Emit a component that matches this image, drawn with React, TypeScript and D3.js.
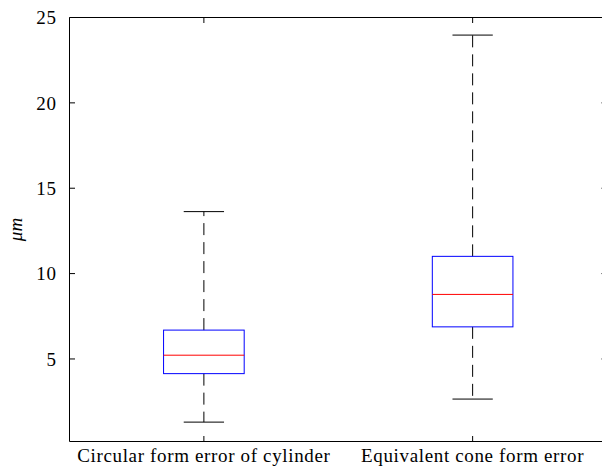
import React from "react";
import * as d3 from "d3";

const categories = ["Circular form error of cylinder", "Equivalent cone form error"];
const whiskerLow = [1.3, 2.65];
const q1 = [4.14, 6.88];
const median = [5.22, 8.78];
const q3 = [6.69, 11.01];
const whiskerHigh = [13.63, 23.97];
const yTicks = [5, 10, 15, 20, 25];

const W = 602;
const H = 467;
const left = 69.5;
const right = 607;
const top = 17.5;
const bottom = 441.5;

export default function App() {
  const x = d3.scaleLinear().domain([0.5, 2.5]).range([left, right]);
  const y = d3.scaleLinear().domain([0.165, 25]).range([bottom, top]);
  const boxW = 0.3;
  const capW = 0.15;
  const tickLen = 5.5;
  const font = "'Liberation Serif', 'DejaVu Serif', serif";
  return (
    <svg
      width={W}
      height={H}
      style={{ position: "absolute", left: 0, top: 0, background: "#fff" }}
    >
      {/* axes box */}
      <g stroke="#000" strokeWidth={1} fill="none">
        <line x1={left} x2={right} y1={top} y2={top} />
        <line x1={left} x2={right} y1={bottom} y2={bottom} />
        <line x1={left} x2={left} y1={top} y2={bottom} />
        <line x1={right} x2={right} y1={top} y2={bottom} />
        {yTicks.map((t) => (
          <g key={t}>
            <line x1={left} x2={left + tickLen} y1={y(t)} y2={y(t)} />
            <line x1={right} x2={right - tickLen} y1={y(t)} y2={y(t)} />
          </g>
        ))}
        {categories.map((c, i) => (
          <g key={c}>
            <line x1={x(i + 1)} x2={x(i + 1)} y1={bottom} y2={bottom - tickLen} />
            <line x1={x(i + 1)} x2={x(i + 1)} y1={top} y2={top + tickLen} />
          </g>
        ))}
      </g>
      {/* y tick labels */}
      {yTicks.map((t) => (
        <text
          key={t}
          x={left - 13}
          y={y(t)}
          dy="0.35em"
          textAnchor="end"
          fontFamily={font}
          fontSize={19}
          letterSpacing={0.6}
          fill="#000"
        >
          {t}
        </text>
      ))}
      {/* x labels */}
      {categories.map((c, i) => (
        <text
          key={c}
          x={x(i + 1)}
          y={462}
          textAnchor="middle"
          fontFamily={font}
          fontSize={19}
          letterSpacing={0.65}
          fill="#000"
        >
          {c}
        </text>
      ))}
      {/* y label */}
      <text
        transform={`translate(22,${(top + bottom) / 2}) rotate(-90)`}
        textAnchor="middle"
        fontFamily={font}
        fontStyle="italic"
        fontSize={19}
        fill="#000"
      >
        μm
      </text>
      {/* boxes */}
      {categories.map((c, i) => {
        const cx = x(i + 1);
        const bx0 = x(i + 1 - boxW / 2);
        const bx1 = x(i + 1 + boxW / 2);
        const cx0 = x(i + 1 - capW / 2);
        const cx1 = x(i + 1 + capW / 2);
        return (
          <g key={c} fill="none" strokeWidth={1}>
            <line
              x1={cx}
              x2={cx}
              y1={y(q3[i])}
              y2={y(whiskerHigh[i])}
              stroke="#000"
              strokeDasharray="12,7"
            />
            <line
              x1={cx}
              x2={cx}
              y1={y(q1[i])}
              y2={y(whiskerLow[i])}
              stroke="#000"
              strokeDasharray="12,7"
            />
            <line x1={cx0} x2={cx1} y1={y(whiskerHigh[i])} y2={y(whiskerHigh[i])} stroke="#000" />
            <line x1={cx0} x2={cx1} y1={y(whiskerLow[i])} y2={y(whiskerLow[i])} stroke="#000" />
            <rect
              x={bx0}
              y={y(q3[i])}
              width={bx1 - bx0}
              height={y(q1[i]) - y(q3[i])}
              stroke="#0000ff"
            />
            <line x1={bx0} x2={bx1} y1={y(median[i])} y2={y(median[i])} stroke="#ff0000" />
          </g>
        );
      })}
    </svg>
  );
}
